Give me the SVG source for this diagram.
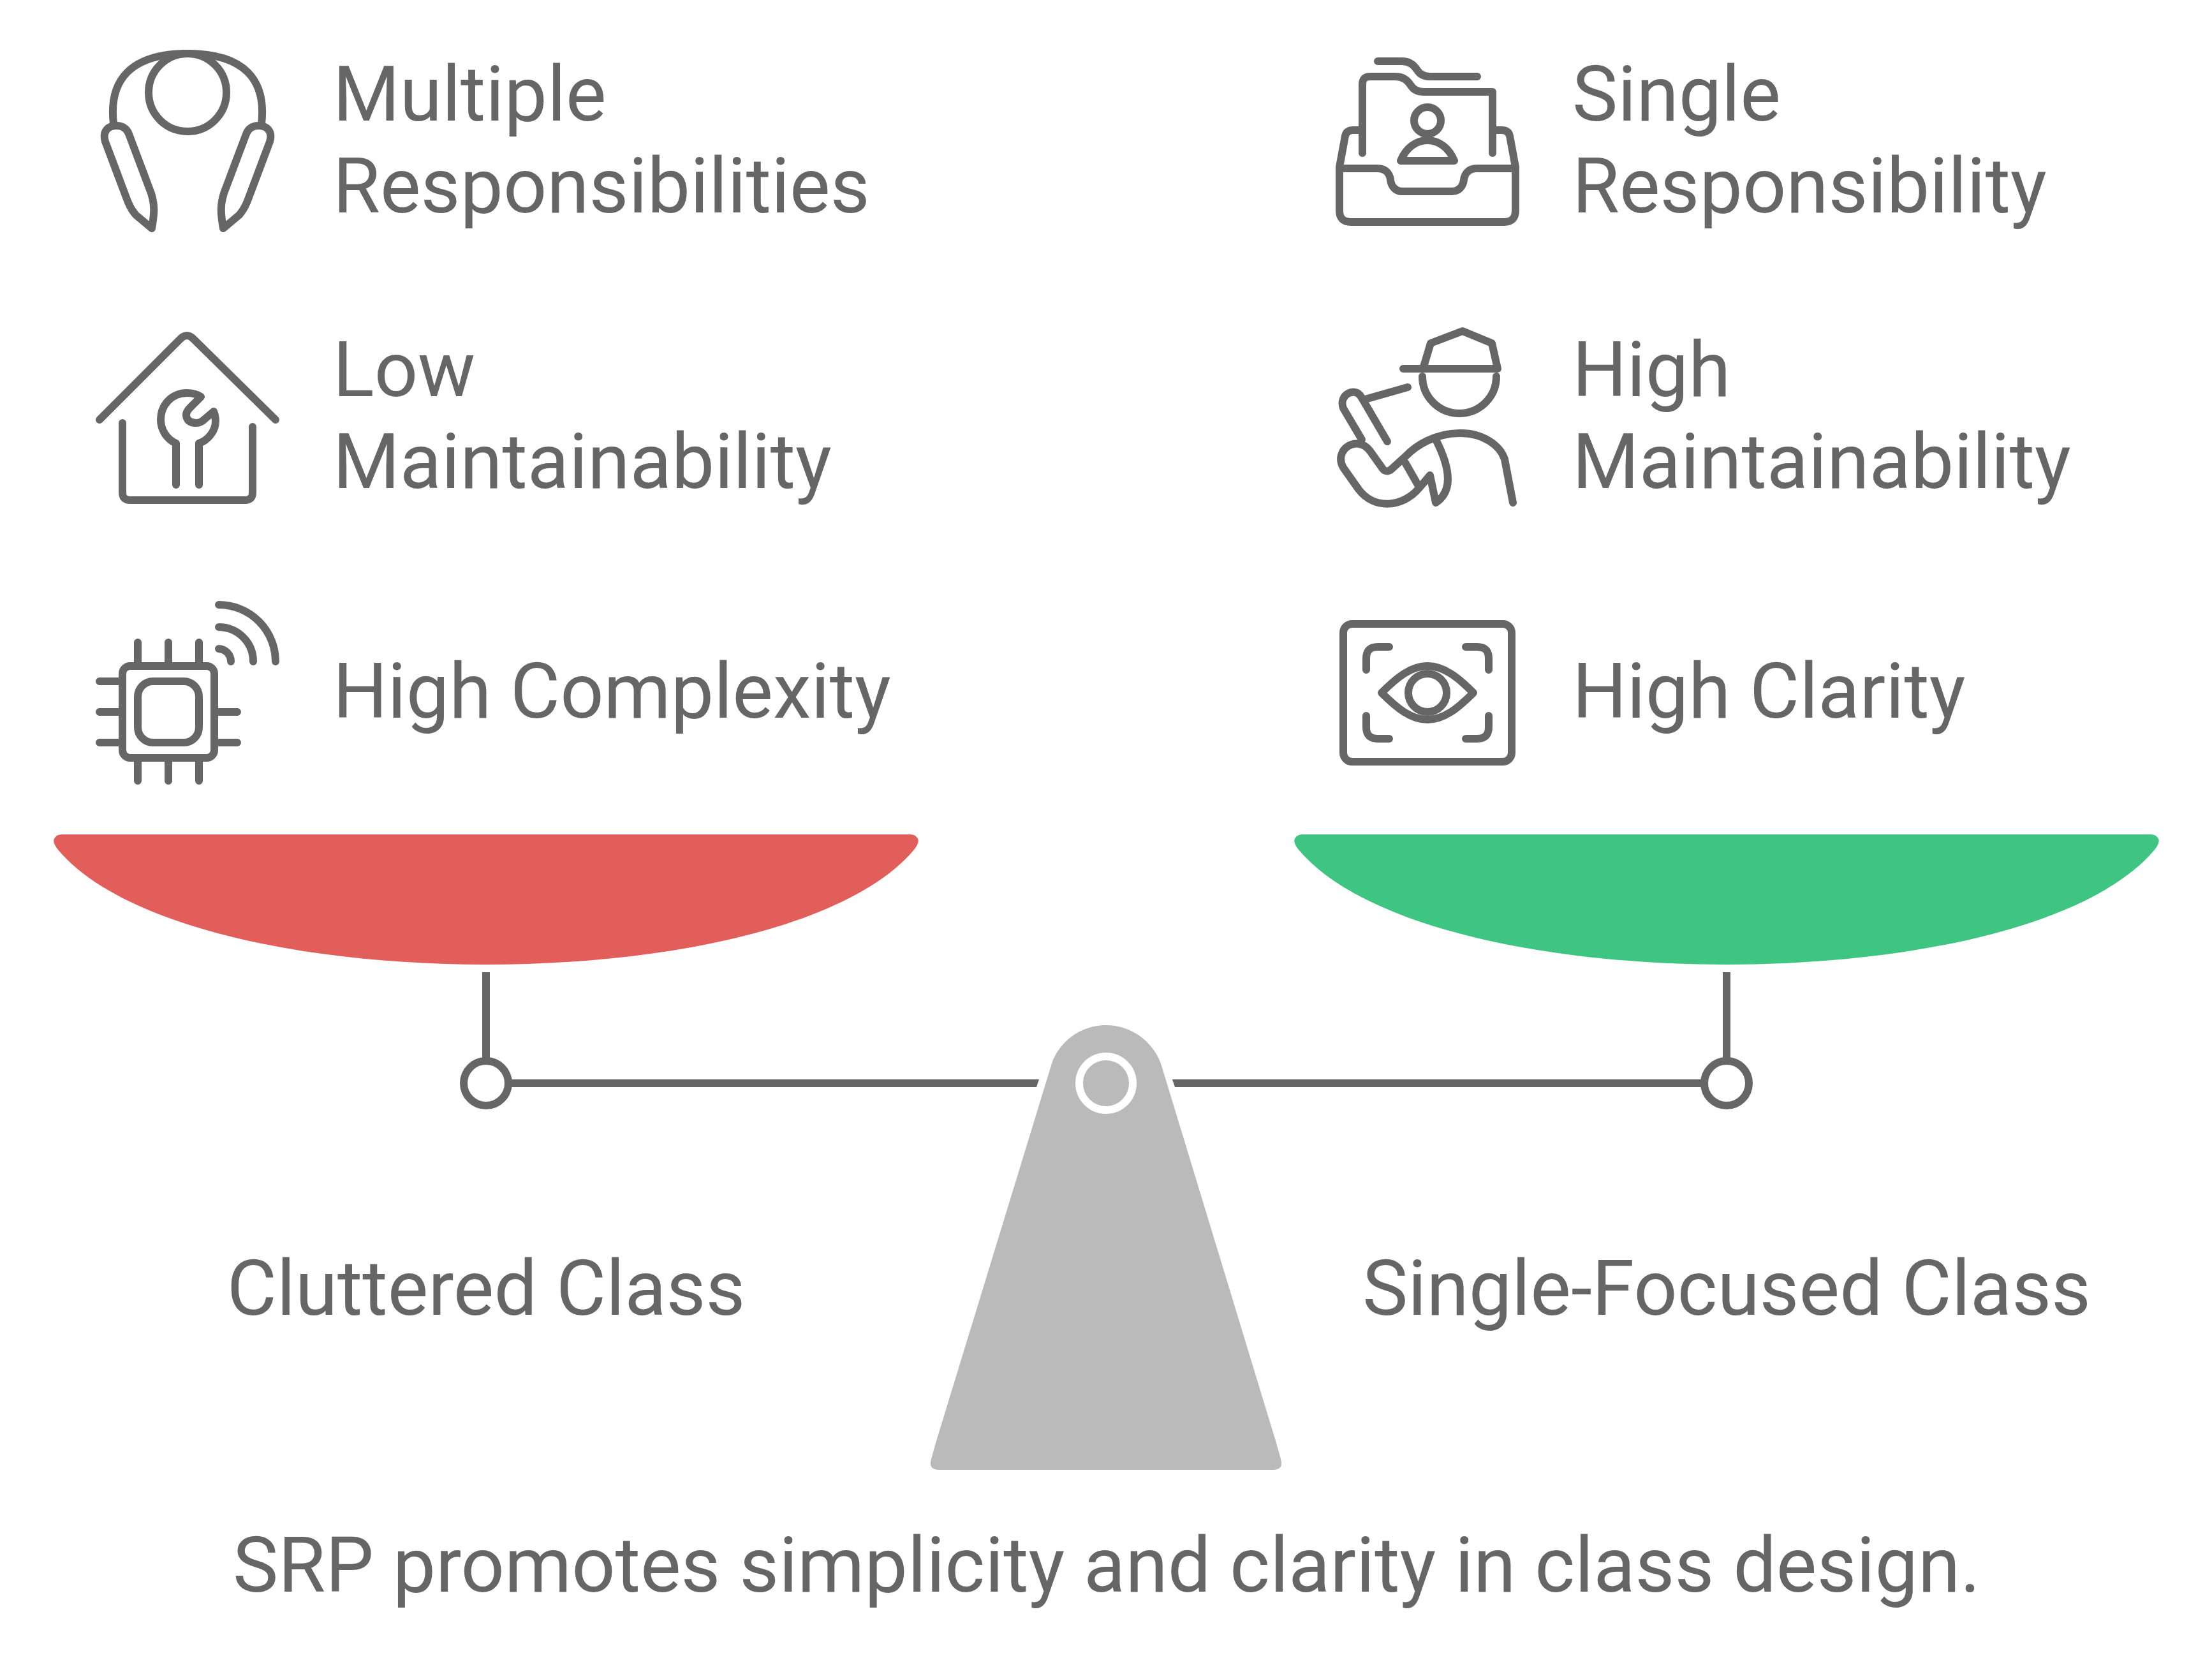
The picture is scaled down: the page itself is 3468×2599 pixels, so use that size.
<svg xmlns="http://www.w3.org/2000/svg" width="3468" height="2599" viewBox="0 0 3468 2599">
<defs>
<style>
text{font-family:Roboto,"Liberation Sans",sans-serif;font-size:120px;fill:#666666}
.mid{text-anchor:middle}
.ic{fill:none;stroke:#666666;stroke-width:12;stroke-linecap:round;stroke-linejoin:round}
.ln{fill:#666666}
</style>
<path id="bowl" d="M762 1512C470 1512 190 1450 91 1332Q80 1318 87 1312Q90 1308 98 1308H1426Q1434 1308 1437 1312Q1444 1318 1433 1332C1334 1450 1054 1512 762 1512Z"/>
<path id="pad" class="ic" d="M165 222C160 205 170 197 183 197C192 197 199 202 202 210L237 303C243 322 242 335 238 358L213 337C205 328 203 322 200 315Z"/>
</defs>
<rect width="3468" height="2599" fill="#ffffff"/>
<g id="connectors">
<path class="ln" d="M797 1692H1629L1625 1704H797Z"/>
<path class="ln" d="M1838 1692H2672V1704H1842Z"/>
<rect class="ln" x="756" y="1524" width="12" height="140"/>
<rect class="ln" x="2701" y="1524" width="12" height="140"/>
<circle cx="762" cy="1698" r="35" fill="#fff" stroke="#666666" stroke-width="12"/>
<circle cx="2707" cy="1698" r="35" fill="#fff" stroke="#666666" stroke-width="12"/>
</g>
<g id="pan-left"><use href="#bowl" fill="#E25E5B"/></g>
<g id="pan-right"><use href="#bowl" x="1945" fill="#3DC581"/></g>
<g id="fulcrum">
<path fill="#BABABA" d="M1734 1607C1692 1607 1660 1635 1649 1667L1467 2262L1460 2287Q1455 2304 1472 2304H1996Q2013 2304 2008 2287L2001 2262L1820 1667C1808 1635 1776 1607 1734 1607Z"/>
<circle cx="1734" cy="1698" r="42" fill="none" stroke="#fff" stroke-width="12"/>
</g>
<g id="multiple-responsibilities">
<circle class="ic" cx="294" cy="145" r="61"/>
<path class="ic" d="M178 194C170 125 205 84 294 84C383 84 418 125 410 194"/>
<use href="#pad"/>
<use href="#pad" transform="matrix(-1 0 0 1 588 0)"/>
<text x="522" y="189">Multiple</text>
<text x="522" y="333">Responsibilities</text>
</g>
<g id="low-maintainability">
<path class="ic" d="M156 658L283 531Q293 521 303 531L432 658"/>
<path class="ic" d="M192 663V772Q192 784 204 784H384Q396 784 396 772V669"/>
<path class="ic" d="M276 760V695C260 688 252 672 252 658C252 634 270 616 293 616C301 616 309 618 315 622L298 639C287 650 292 663 308 663C314 663 318 660 322 656L335 645C338 652 338 656 338 660C338 676 326 690 312 695V760"/>
<text x="522" y="621">Low</text>
<text x="522" y="765">Maintainability</text>
</g>
<g id="high-complexity">
<rect class="ic" x="192" y="1044" width="144" height="144" rx="12"/>
<rect class="ic" x="216" y="1068" width="96" height="96" rx="24"/>
<path class="ic" d="M216 1007V1044M264 1007V1044M312 1007V1044M216 1188V1224M264 1188V1224M312 1188V1224M156 1068H192M156 1116H192M156 1164H192M336 1116H372M336 1164H372"/>
<path class="ic" d="M343 948A89 89 0 0 1 432 1037M343 983A54 54 0 0 1 397 1037M343 1017A20 20 0 0 1 362 1037"/>
<text x="522" y="1125">High Complexity</text>
</g>
<g id="single-responsibility">
<path class="ic" d="M2100 264V330Q2100 348 2118 348H2358Q2376 348 2376 330V264H2315C2303 264 2296 272 2295 282C2294 292 2287 300 2277 300H2198C2188 300 2181 292 2180 282C2179 272 2172 264 2160 264Z"/>
<path class="ic" d="M2100 262L2109 213Q2111 204 2122 204H2136M2376 262L2367 213Q2365 204 2354 204H2340"/>
<path class="ic" d="M2136 240V132Q2136 120 2148 120H2188C2200 120 2207 126 2212 134C2217 142 2224 144 2232 144H2340V240"/>
<path class="ic" d="M2160 96H2198C2210 96 2217 102 2222 110C2227 118 2234 120 2242 120H2316"/>
<circle class="ic" cx="2238" cy="189" r="21"/>
<path class="ic" d="M2196 252C2204 232 2220 220 2238 220C2256 220 2272 232 2280 252Z"/>
<text x="2465" y="189">Single</text>
<text x="2465" y="333">Responsibility</text>
</g>
<g id="high-maintainability">
<path class="ic" d="M2200 578H2348M2231 578L2243 538L2293 519L2339 538L2348 578"/>
<path class="ic" d="M2230 590A58 58 0 0 0 2346 590"/>
<path class="ic" d="M2207 607L2140 626"/>
<path class="ic" d="M2175 692L2134 622C2125 606 2098 618 2106 640L2135 689"/>
<path class="ic" d="M2372 788L2359 720C2352 698 2325 679 2290 679C2250 679 2220 698 2203 716L2182 735C2177 740 2171 739 2168 735L2148 707C2128 680 2090 705 2106 733L2130 767C2155 800 2200 795 2225 765L2242 745L2251 788C2278 770 2275 735 2250 687"/>
<path class="ic" d="M2203 725L2223 760"/>
<text x="2465" y="621">High</text>
<text x="2465" y="765">Maintainability</text>
</g>
<g id="high-clarity">
<rect class="ic" x="2106" y="978" width="264" height="216" rx="14"/>
<path class="ic" d="M2142 1050V1032Q2142 1014 2160 1014H2178M2298 1014H2316Q2334 1014 2334 1032V1050M2142 1122V1140Q2142 1158 2160 1158H2178M2298 1158H2316Q2334 1158 2334 1140V1122"/>
<path class="ic" d="M2166 1086C2190 1062 2212 1044 2238 1044C2264 1044 2286 1062 2310 1086C2286 1110 2264 1128 2238 1128C2212 1128 2190 1110 2166 1086Z"/>
<circle class="ic" cx="2238" cy="1086" r="30"/>
<text x="2465" y="1125">High Clarity</text>
</g>
<g id="labels">
<text class="mid" x="762" y="2061">Cluttered Class</text>
<text class="mid" x="2707" y="2061">Single-Focused Class</text>
<text x="365" y="2495">SRP promotes simplicity and clarity in class design.</text>
</g>
</svg>
